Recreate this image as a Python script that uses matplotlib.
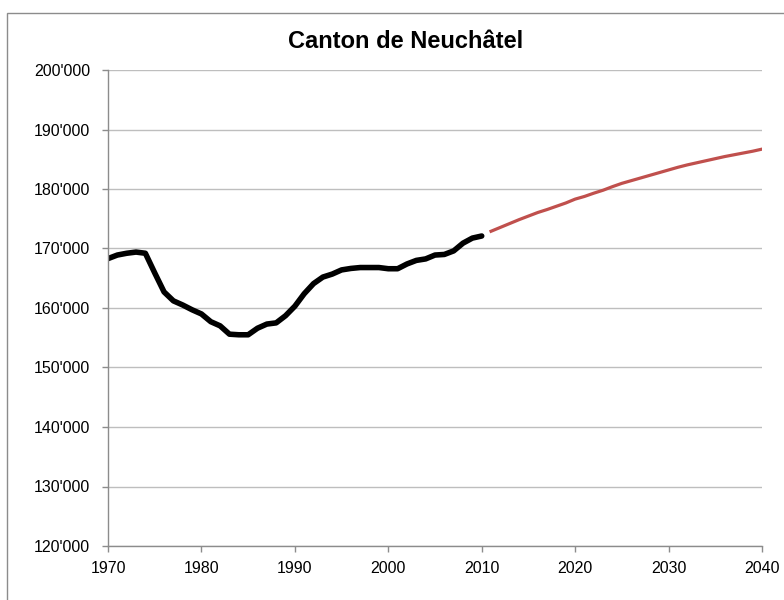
import matplotlib.pyplot as plt
from matplotlib.patches import Rectangle
from matplotlib.ticker import FuncFormatter

plt.rcParams['font.family'] = ['Liberation Sans', 'DejaVu Sans']

# population, observed
years_obs = list(range(1970, 2011))
pop_obs = [168300, 168900, 169200, 169400, 169200, 165900, 162700, 161200, 160500, 159700,
           159000, 157700, 157000, 155600, 155500, 155500, 156600, 157300, 157500, 158700,
           160300, 162400, 164100, 165200, 165700, 166400, 166650, 166800, 166800, 166800,
           166600, 166600, 167400, 168000, 168250, 168900, 169000, 169600, 170900, 171750,
           172100]

# projection
years_proj = list(range(2011, 2041))
pop_proj = [172900, 173550, 174200, 174850, 175450, 176050, 176550, 177100, 177650, 178300,
            178750, 179300, 179800, 180400, 180950, 181400, 181850, 182300, 182750, 183200,
            183650, 184050, 184400, 184750, 185100, 185450, 185750, 186050, 186350, 186700]

fig = plt.figure(figsize=(7.84, 6), dpi=100)
ax = fig.add_axes([108/784, 54/600, 654/784, 476/600])

ax.plot(years_obs, pop_obs, color='black', linewidth=4, solid_joinstyle='round', solid_capstyle='round')
ax.plot(years_proj, pop_proj, color='#C0504D', linewidth=2.3, solid_joinstyle='round')

ax.set_xlim(1970, 2040)
ax.set_ylim(120000, 200000)
ax.set_xticks(range(1970, 2041, 10))
ax.set_yticks(range(120000, 200001, 10000))
ax.yaxis.set_major_formatter(FuncFormatter(lambda v, p: f"{int(v)//1000}'{int(v)%1000:03d}"))

ax.grid(axis='y', color='#BEBEBE', linewidth=1)
ax.set_axisbelow(True)
for s in ['top', 'right']:
    ax.spines[s].set_visible(False)
for s in ['left', 'bottom']:
    ax.spines[s].set_color('#8C8C8C')
    ax.spines[s].set_linewidth(1)
ax.tick_params(axis='both', colors='#8C8C8C', labelcolor='black', labelsize=11.5, length=4, width=1)
ax.tick_params(axis='y', pad=9)
ax.tick_params(axis='x', pad=7)

fig.text(0.517, 0.931, 'Canton de Neuchâtel', ha='center', va='center', fontsize=17, fontweight='bold')

# chart frame
fig.patches.append(Rectangle((7/784, -0.1), 1.2, 1.1 - 13/600, transform=fig.transFigure,
                             fill=False, edgecolor='#8C8C8C', linewidth=1))

fig.savefig('out.png', dpi=100)
